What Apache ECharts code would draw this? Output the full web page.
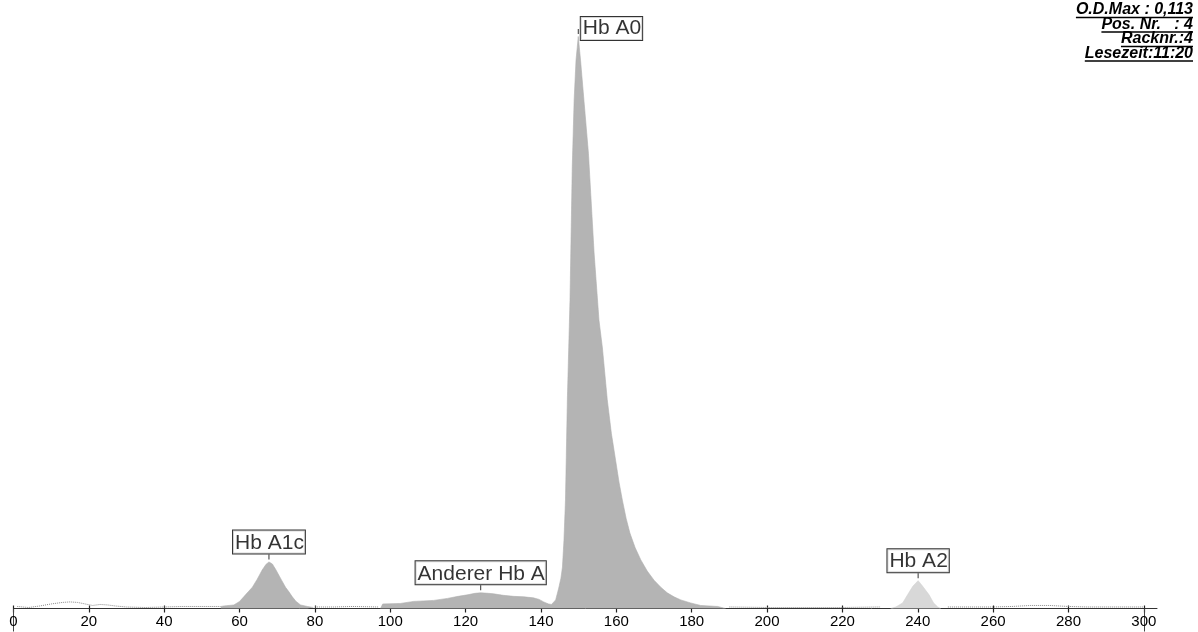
<!DOCTYPE html>
<html>
<head>
<meta charset="utf-8">
<script src="https://cdn.jsdelivr.net/npm/echarts@6/dist/echarts.min.js"></script>
<style>
  html, body { margin: 0; padding: 0; background: #fff; }
  #chart { width: 1198px; height: 632px; }
</style>
</head>
<body>
<div id="chart"></div>
<script>
// Electropherogram of haemoglobin fractions (absorbance in mOD vs. run position)

// Hb A1c peak
const a1cPos = [55.0, 55.8, 58.5, 60.0, 61.1, 62.3, 63.4, 64.7, 66.0, 67.0, 67.8, 68.7, 69.6, 71.0, 72.2, 73.1, 74.0, 75.0, 76.2, 78.0, 79.6];
const a1cOD  = [0.4, 0.5, 0.7, 1.4, 2.3, 3.3, 4.2, 5.8, 7.6, 8.7, 9.2, 8.8, 7.7, 5.8, 4.2, 3.3, 2.3, 1.4, 0.7, 0.4, 0.2];

// "Anderer Hb A" shoulder followed by the main Hb A0 peak
const a0Pos = [97.4, 98.0, 102.7, 106.2, 111.5, 115.2, 118.0, 120.5, 122.5, 124.0, 126.0, 127.4, 130.0, 132.7, 135.5, 138.0, 139.5, 140.7, 142.0, 142.8,
               143.9, 144.7, 145.3, 145.7, 146.1, 146.5, 147.0, 147.7, 148.3, 148.8, 149.3, 149.9, 150.5, 151.4, 152.6, 154.1, 155.4, 156.3,
               157.6, 158.7, 159.8, 160.7, 161.6, 162.6, 163.6, 165.0, 166.5, 168.2, 170.0, 171.8, 173.5, 175.3, 177.1, 179.7, 182.4, 186.9, 189.0];
const a0OD  = [0.0, 0.9, 1.0, 1.4, 1.6, 2.0, 2.4, 2.7, 3.0, 3.1, 3.0, 2.9, 2.6, 2.4, 2.3, 2.1, 1.8, 1.3, 0.9, 0.8,
               1.7, 4.0, 6.0, 8.2, 13.5, 21.4, 41.2, 60.9, 87.2, 100.4, 108.3, 113.0, 108.3, 100.4, 89.9, 70.2, 56.9, 51.5,
               41.2, 34.5, 29.3, 25.0, 21.4, 17.8, 14.9, 12.0, 9.6, 7.4, 5.6, 4.2, 3.1, 2.3, 1.7, 1.1, 0.6, 0.4, 0.0];

// Hb A2 peak
const a2Pos = [232.8, 234.2, 236.0, 237.3, 238.7, 240.1, 241.3, 243.0, 244.2, 245.3, 246.1];
const a2OD  = [0.0, 0.3, 1.1, 2.7, 4.4, 5.5, 4.4, 2.7, 1.1, 0.3, 0.0];

// baseline trace outside the integrated peaks (null = gap)
const basePos = [1, 4, 7, 10, 13, 15, 17, 19, 21, 23, 25, 27, 30, 35, 40, 45, 50, 55, 56, 80, 85, 90, 97, 98, 190, 200, 210, 220, 230, 231, 248, 255, 260, 265, 270, 275, 280, 285, 290, 295, 300];
const baseOD  = [0.4, 0.2, 0.5, 0.9, 1.2, 1.3, 1.2, 0.9, 0.6, 0.8, 0.7, 0.5, 0.3, 0.2, 0.3, 0.4, 0.4, 0.4, null, 0.3, 0.3, 0.4, 0.3, null, 0.3, 0.2, 0.2, 0.2, 0.3, null, 0.3, 0.3, 0.3, 0.4, 0.6, 0.6, 0.4, 0.3, 0.3, 0.3, 0.3];

// peak annotations
const peakNames = ['Hb A1c', 'Anderer Hb A', 'Hb A0', 'Hb A2'];
const peakPos   = [67.8, 124.0, 149.9, 240.1];
const peakOD    = [9.2, 3.1, 113.0, 5.5];

// x-axis tick values
const xTicks = [0, 20, 40, 60, 80, 100, 120, 140, 160, 180, 200, 220, 240, 260, 280, 300];

// run information block (top right)
const infoLines = ['O.D.Max : 0,113', 'Pos. Nr.   : 4', 'Racknr.:4', 'Lesezeit:11:20'];

const zip = (xs, ys) => xs.map((x, i) => [x, ys[i] === null ? '-' : ys[i]]);

const chart = echarts.init(document.getElementById('chart'), null, { renderer: 'canvas' });

const labelBox = {
  show: true,
  position: 'top',
  distance: 1,
  fontFamily: 'Liberation Sans, Arial, sans-serif',
  fontSize: 21,
  lineHeight: 21,
  color: '#000',
  backgroundColor: '#fff',
  borderColor: '#000',
  borderWidth: 1,
  padding: [2, 1, 0, 2],
  formatter: p => p.name
};

const peakLabels = peakNames.map((n, i) => {
  const d = { name: n, value: [peakPos[i], peakOD[i]] };
  if (n === 'Hb A0') {
    d.label = { position: 'right', distance: 2, offset: [0, -3] };
  }
  return d;
});

// underlined info text (right aligned)
const infoFont = 'italic bold 16px "Liberation Sans", Arial, sans-serif';
const mctx = document.createElement('canvas').getContext('2d');
mctx.font = infoFont;
const infoRight = 1193;
const infoTop = 10;
const infoStep = 14.5;
const infoGraphics = [];
infoLines.forEach((t, i) => {
  const cy = infoTop + i * infoStep;
  const w = mctx.measureText(t).width;
  infoGraphics.push({
    type: 'text', right: 1198 - infoRight, top: cy - 8,
    style: { text: t, font: infoFont, fill: '#000', textAlign: 'right' }
  });
  infoGraphics.push({
    type: 'line',
    shape: { x1: infoRight - w, y1: cy + 7.5, x2: infoRight, y2: cy + 7.5 },
    style: { stroke: '#000', lineWidth: 1.3 }
  });
});

chart.setOption({
  animation: false,
  backgroundColor: '#fff',
  grid: { left: 13.5, right: 41, top: 1, bottom: 23.5, containLabel: false },
  xAxis: [{
    type: 'value', min: 0, max: 303.5, interval: 20,
    splitLine: { show: false },
    axisLine: { show: true, onZero: false, lineStyle: { color: '#333', width: 1 } },
    axisTick: { show: true, inside: false, length: 4, customValues: xTicks, lineStyle: { color: '#222', width: 1.2 } },
    axisLabel: {
      customValues: xTicks, margin: 6,
      fontFamily: 'Liberation Sans, Arial, sans-serif', fontSize: 15, color: '#000'
    }
  }, {
    // long end markers at 0 and 300
    type: 'value', min: 0, max: 303.5, position: 'bottom',
    axisLine: { show: false }, splitLine: { show: false },
    axisLabel: { show: false },
    axisTick: { show: true, inside: false, length: 23, customValues: [0, 300], lineStyle: { color: '#444', width: 1 } }
  }, {
    // short upward tick stubs
    type: 'value', min: 0, max: 303.5, position: 'bottom',
    axisLine: { show: false }, splitLine: { show: false },
    axisLabel: { show: false },
    axisTick: { show: true, inside: true, length: 3, customValues: xTicks, lineStyle: { color: '#222', width: 1.2 } }
  }],
  yAxis: { type: 'value', min: 0, max: 120, show: false },
  series: [
    {
      name: 'Hb A1c', type: 'line', data: zip(a1cPos, a1cOD), symbol: 'none',
      lineStyle: { width: 0.6, color: '#aeaeae' }, areaStyle: { color: '#b4b4b4', opacity: 1 }, z: 3
    },
    {
      name: 'Hb A0', type: 'line', data: zip(a0Pos, a0OD), symbol: 'none',
      lineStyle: { width: 0.6, color: '#aeaeae' }, areaStyle: { color: '#b4b4b4', opacity: 1 }, z: 3
    },
    {
      name: 'Hb A2', type: 'line', data: zip(a2Pos, a2OD), symbol: 'none',
      lineStyle: { width: 0.6, color: '#d2d2d2' }, areaStyle: { color: '#d8d8d8', opacity: 1 }, z: 3
    },
    {
      name: 'Basislinie', type: 'line', data: zip(basePos, baseOD), symbol: 'none', connectNulls: false,
      lineStyle: { width: 1, type: 'dotted', color: '#888' }, z: 2
    },
    {
      name: 'Peaks', type: 'scatter', data: peakLabels,
      symbol: 'rect', symbolSize: [1, 5], symbolOffset: [0, -5],
      itemStyle: { color: '#000' },
      label: labelBox, z: 5
    }
  ],
  graphic: infoGraphics
});
</script>
</body>
</html>
